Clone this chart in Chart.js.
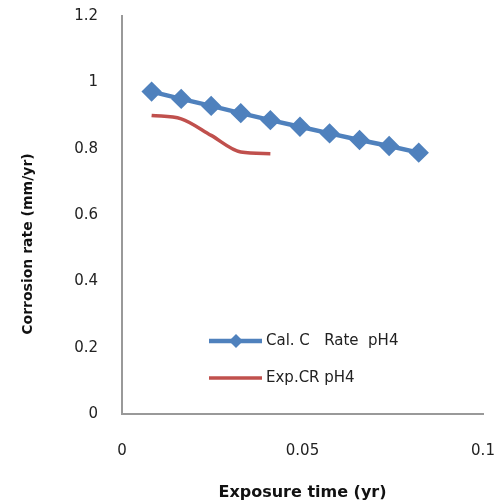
<!DOCTYPE html>
<html>
<head>
<meta charset="utf-8">
<script src="https://cdn.jsdelivr.net/npm/chart.js@4/dist/chart.umd.min.js"></script>
<style>
  html, body { margin: 0; padding: 0; background: #fff; }
  #wrap { width: 503px; height: 502px; }
</style>
</head>
<body>
<div id="wrap"><canvas id="chart" width="503" height="502"></canvas></div>
<script>
// tiempos de exposición (años), cada 3 días
const tiempos = [0.0082, 0.0164, 0.0247, 0.0329, 0.0411, 0.0493, 0.0575, 0.0658, 0.0740, 0.0822];
const calRate = [0.972, 0.950, 0.929, 0.907, 0.886, 0.866, 0.846, 0.826, 0.808, 0.788];
const expRate = [0.90, 0.89, 0.84, 0.79, 0.785];
const etiquetas = ['Cal. C   Rate  pH4', 'Exp.CR pH4'];
const tituloY = 'Corrosion rate (mm/yr)';

const azul = '#4F81BD';
const rojo = '#C0504D';

// formato de las marcas sin ceros sobrantes (1 en vez de 1.0)
const formato = v => String(Math.round(v * 100) / 100);

// leyenda dibujada dentro del área del gráfico + título del eje Y (algo desplazado hacia abajo)
const leyendaInterna = {
  id: 'leyendaInterna',
  afterDraw(chart) {
    const ctx = chart.ctx;
    const filas = [341, 378];
    ctx.save();
    chart.data.datasets.forEach((ds, i) => {
      const y = filas[i];
      ctx.strokeStyle = ds.borderColor;
      ctx.lineWidth = ds.borderWidth;
      ctx.beginPath();
      ctx.moveTo(209, y);
      ctx.lineTo(262, y);
      ctx.stroke();
      if (ds.pointRadius > 0) {
        ctx.fillStyle = ds.borderColor;
        ctx.beginPath();
        ctx.moveTo(236, y - 7);
        ctx.lineTo(243, y);
        ctx.lineTo(236, y + 7);
        ctx.lineTo(229, y);
        ctx.closePath();
        ctx.fill();
      }
      ctx.fillStyle = '#222';
      ctx.font = '15px "DejaVu Sans"';
      ctx.textBaseline = 'middle';
      ctx.fillText(ds.label, 266, y);
    });

    ctx.translate(28, 244);
    ctx.rotate(-Math.PI / 2);
    ctx.fillStyle = '#111';
    ctx.font = 'bold 14px "DejaVu Sans"';
    ctx.textAlign = 'center';
    ctx.textBaseline = 'middle';
    ctx.fillText(tituloY, 0, 0);
    ctx.restore();
  }
};

const ctx = document.getElementById('chart').getContext('2d');
new Chart(ctx, {
  type: 'line',
  data: {
    datasets: [{
      label: etiquetas[0],
      data: tiempos.map((t, i) => ({ x: t, y: calRate[i] })),
      borderColor: azul,
      backgroundColor: azul,
      borderWidth: 4.5,
      pointStyle: 'rectRot',
      pointRadius: 7,
      pointHoverRadius: 7,
      fill: false
    }, {
      label: etiquetas[1],
      data: tiempos.slice(0, expRate.length).map((t, i) => ({ x: t, y: expRate[i] })),
      borderColor: rojo,
      backgroundColor: rojo,
      borderWidth: 3.5,
      pointRadius: 0,
      cubicInterpolationMode: 'monotone',
      fill: false
    }]
  },
  options: {
    responsive: false,
    animation: false,
    layout: { padding: { top: 16, right: 20, left: 0, bottom: 0 } },
    plugins: {
      legend: { display: false },
      tooltip: { enabled: false }
    },
    scales: {
      x: {
        type: 'linear',
        min: 0,
        max: 0.1,
        ticks: {
          stepSize: 0.05,
          padding: 28,
          color: '#222',
          callback: formato,
          font: { family: 'DejaVu Sans', size: 15 }
        },
        grid: { display: false, drawTicks: false },
        border: { color: '#999', width: 2 },
        title: {
          display: true,
          text: 'Exposure time (yr)',
          color: '#111',
          padding: { top: 0, bottom: 0 },
          font: { family: 'DejaVu Sans', size: 16, weight: 'bold' }
        },
        afterFit(scale) {
          scale.height = 88;
          scale.paddingLeft = 0;
          scale.paddingRight = 0;
        }
      },
      y: {
        min: 0,
        max: 1.2,
        ticks: {
          stepSize: 0.2,
          padding: 24,
          color: '#222',
          callback: formato,
          font: { family: 'DejaVu Sans', size: 15 }
        },
        grid: { display: false, drawTicks: false },
        border: { color: '#999', width: 2 },
        afterFit(scale) {
          scale.width = 122;
          scale.paddingTop = 0;
          scale.paddingBottom = 0;
        }
      }
    }
  },
  plugins: [leyendaInterna]
});
</script>
</body>
</html>
